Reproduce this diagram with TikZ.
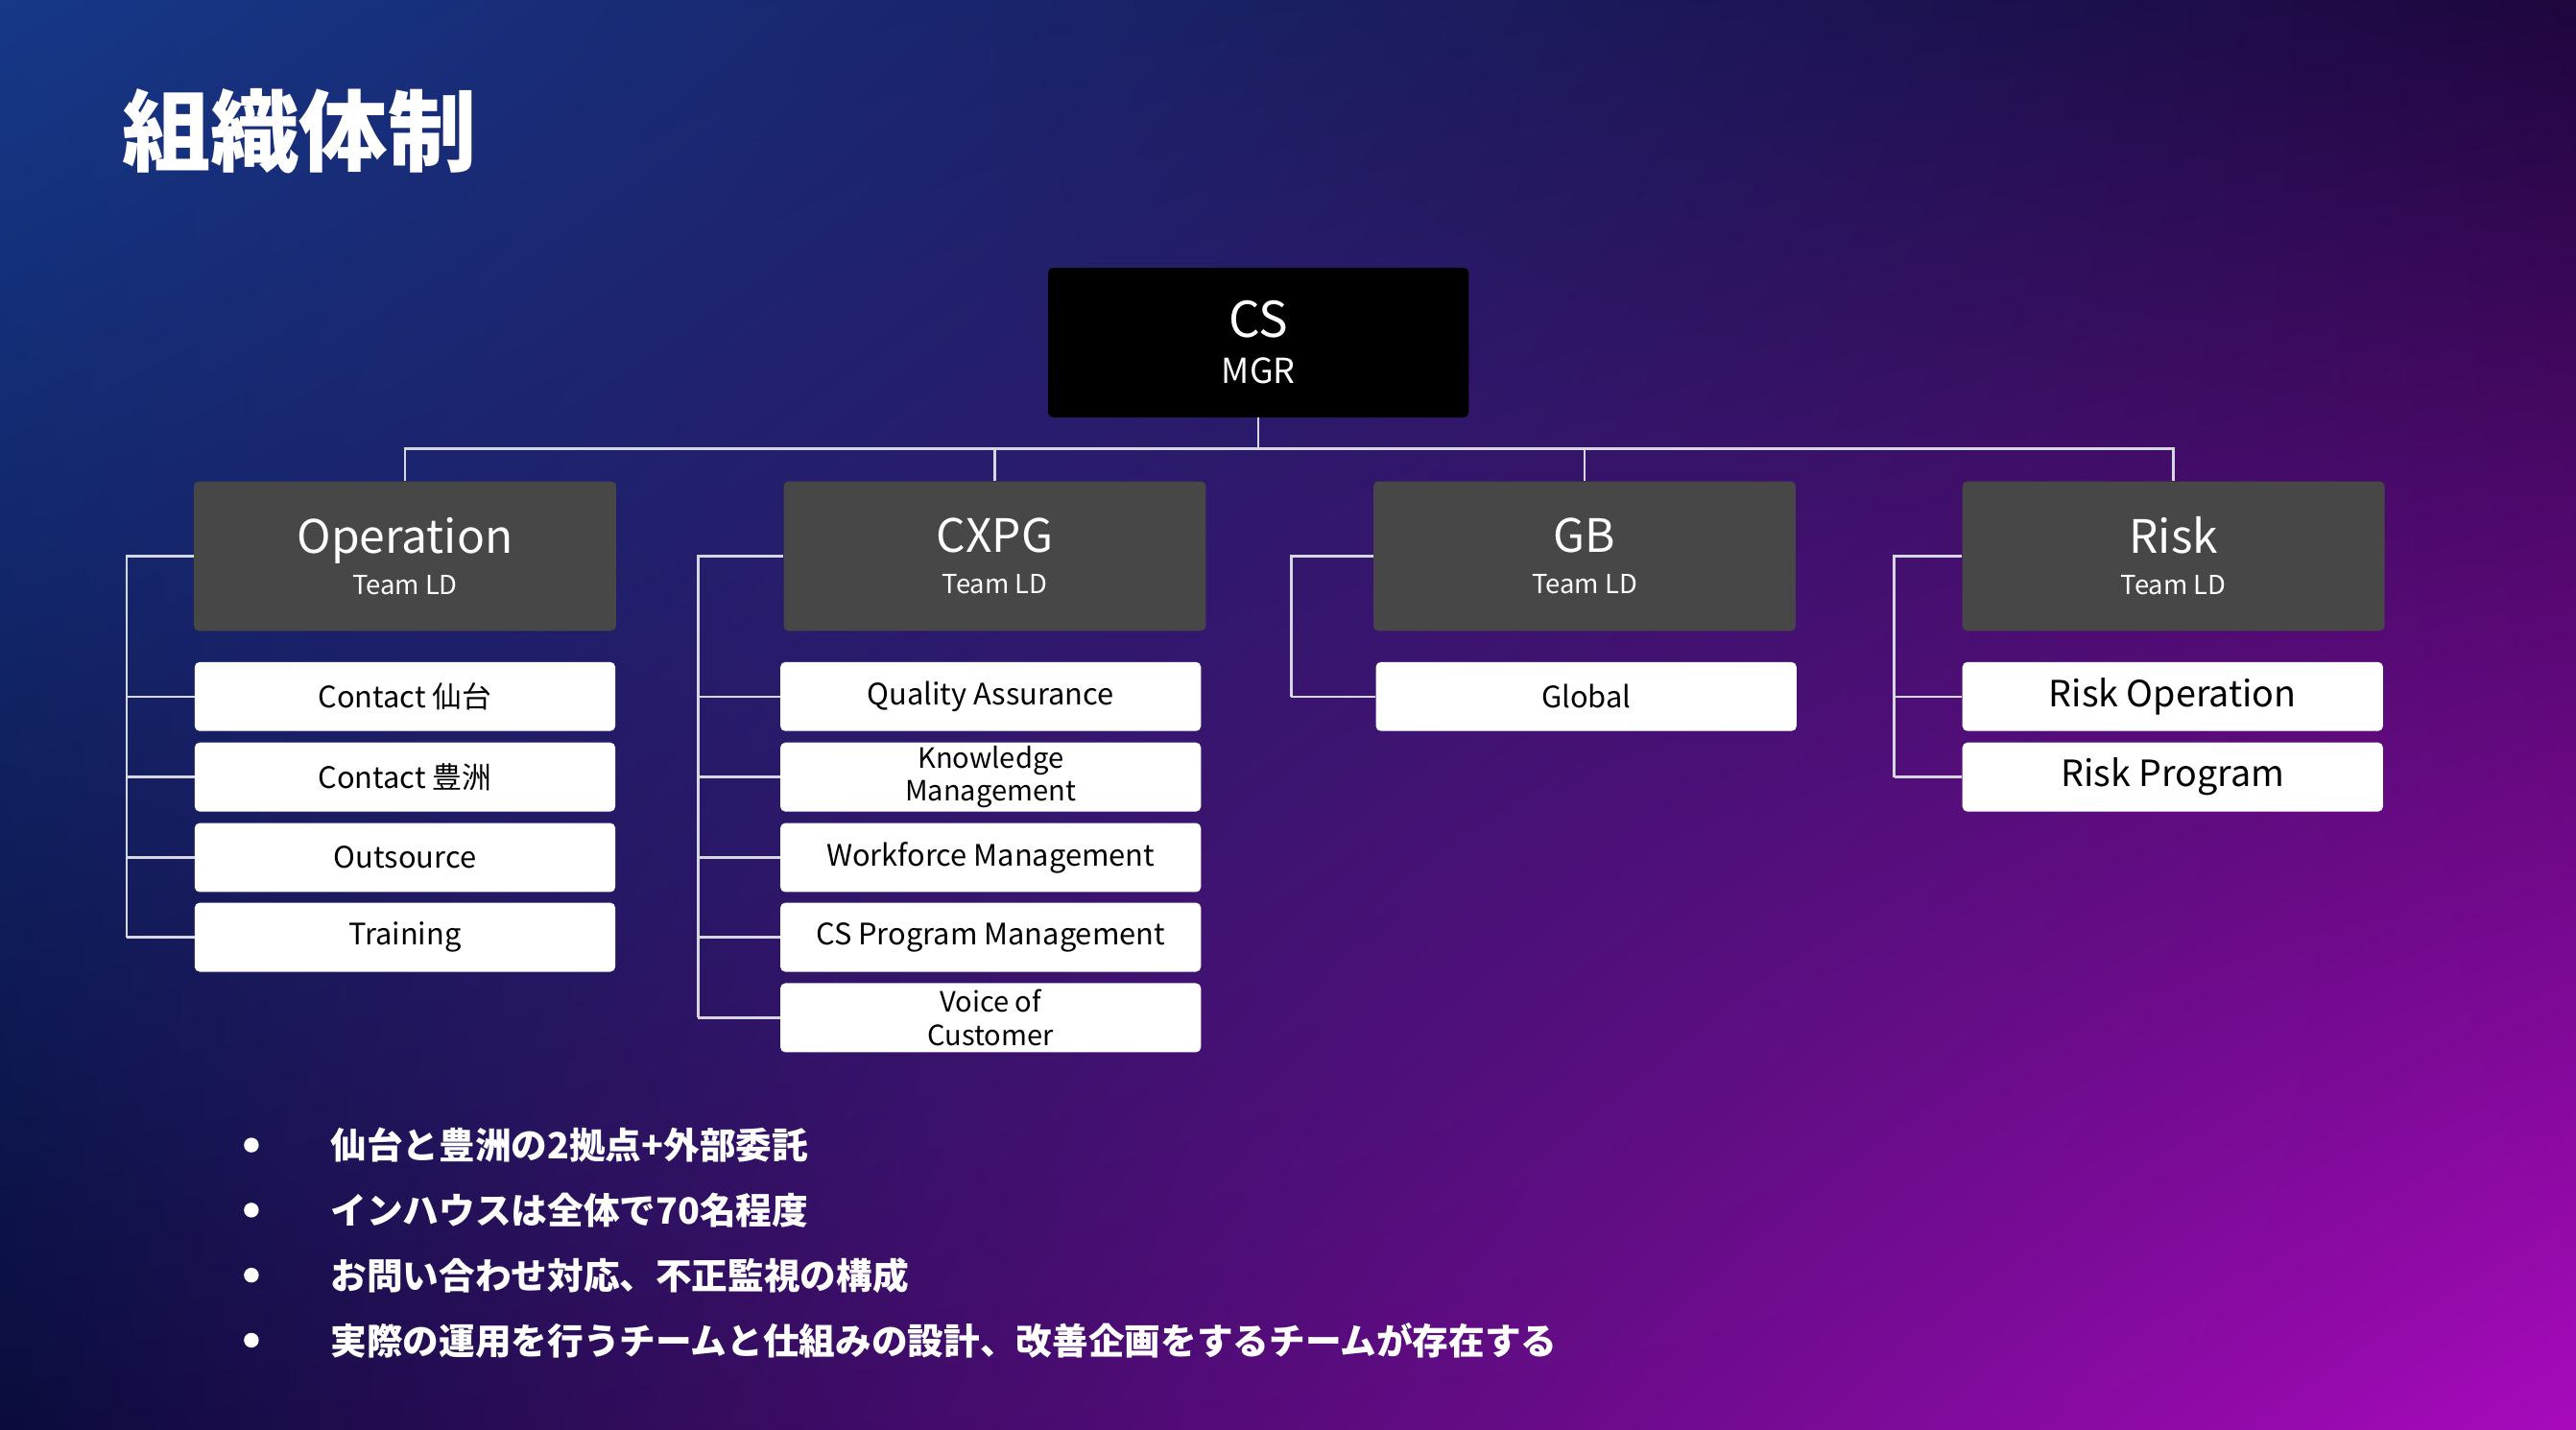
\documentclass[tikz,border=0pt]{standalone}
\usepackage{fontspec}
\setmainfont{Noto Sans CJK JP}
\usetikzlibrary{positioning,shadings}
\definecolor{bgUL}{RGB}{22,56,136}
\definecolor{bgUR}{RGB}{30,6,62}
\definecolor{bgLL}{RGB}{10,12,60}
\definecolor{bgLR}{RGB}{168,10,188}
\definecolor{teamColor}{RGB}{71,71,71}
\definecolor{lineColor}{RGB}{215,215,225}
\tikzset{
  mgr/.style={fill=black,rounded corners=3pt,minimum width=256pt,minimum height=91pt,inner sep=0pt,text=white,align=center,font=\fontsize{21}{28}\selectfont},
  team/.style={fill=teamColor,rounded corners=3pt,minimum width=257pt,minimum height=91pt,inner sep=0pt,text=white,align=center,font=\fontsize{16}{25}\selectfont},
  sub/.style={fill=white,rounded corners=3pt,minimum width=256pt,minimum height=42pt,inner sep=0pt,text=black,align=center,font=\fontsize{18}{19}\selectfont},
  link/.style={draw=lineColor,line width=1.5pt},
  bullet/.style={anchor=west,inner sep=0pt,text=white,font=\bfseries\fontsize{22}{24}\selectfont}
}
\begin{document}
\begin{tikzpicture}[x=1pt,y=-1pt]
\shade[upper left=bgUL,upper right=bgUR,lower left=bgLL,lower right=bgLR] (0,0) rectangle (1568,870);
\useasboundingbox (0,0) rectangle (1568,870);

\node[anchor=west,inner sep=0pt,text=white,font=\bfseries\fontsize{54}{58}\selectfont] (title) at (74,80) {組織体制};

% manager
\node[mgr] (cs) at (766,208.5) {{\fontsize{30}{32}\selectfont CS}\\MGR};

% teams
\node[team] (op) at (246.5,338.5) {{\fontsize{28}{30}\selectfont Operation}\\Team LD};
\node[team] (cx) at (605.5,338.5) {{\fontsize{28}{30}\selectfont CXPG}\\Team LD};
\node[team] (gb) at (964.5,338.5) {{\fontsize{28}{30}\selectfont GB}\\Team LD};
\node[team] (rk) at (1323,338.5) {{\fontsize{28}{30}\selectfont Risk}\\Team LD};

% sub units
\node[sub] (op1) at (246.5,424) {Contact 仙台};
\node[sub] (op2) at (246.5,473) {Contact 豊洲};
\node[sub] (op3) at (246.5,522) {Outsource};
\node[sub] (op4) at (246.5,570.5) {Training};

\node[sub] (cx1) at (603,424) {Quality Assurance};
\node[sub,font=\fontsize{17}{20}\selectfont] (cx2) at (603,473) {Knowledge\\Management};
\node[sub] (cx3) at (603,522) {Workforce Management};
\node[sub] (cx4) at (603,570.5) {CS Program Management};
\node[sub,font=\fontsize{17}{20}\selectfont] (cx5) at (603,619.5) {Voice of\\Customer};

\node[sub] (gb1) at (965.5,424) {Global};

\node[sub,font=\fontsize{22}{24}\selectfont] (rk1) at (1322.5,424) {Risk Operation};
\node[sub,font=\fontsize{22}{24}\selectfont] (rk2) at (1322.5,473) {Risk Program};

% connectors
\coordinate (bus) at (766,273);
\draw[link] (cs.south) -- (bus);
\foreach \t in {op,cx,gb,rk}
  \draw[link] (\t.north) |- (bus);

\coordinate (opspine) at (77,570.5);
\coordinate (cxspine) at (425,619.5);
\coordinate (gbspine) at (786,424);
\coordinate (rkspine) at (1153,473);
\draw[link] (op.west) -| (opspine);
\draw[link] (cx.west) -| (cxspine);
\draw[link] (gb.west) -| (gbspine);
\draw[link] (rk.west) -| (rkspine);
\foreach \s in {op1,op2,op3,op4}
  \draw[link] (\s.west) -- (\s.west -| opspine);
\foreach \s in {cx1,cx2,cx3,cx4,cx5}
  \draw[link] (\s.west) -- (\s.west -| cxspine);
\draw[link] (gb1.west) -- (gb1.west -| gbspine);
\foreach \s in {rk1,rk2}
  \draw[link] (\s.west) -- (\s.west -| rkspine);

% notes
\foreach \txt [count=\i] in {仙台と豊洲の2拠点+外部委託,インハウスは全体で70名程度,お問い合わせ対応、不正監視の構成,実際の運用を行うチームと仕組みの設計、改善企画をするチームが存在する}{
  \fill[white] (153,{697+39.6*(\i-1)}) circle (4.5pt);
  \node[bullet] (note\i) at (201,{697+39.6*(\i-1)}) {\txt};
}
\end{tikzpicture}
\end{document}
